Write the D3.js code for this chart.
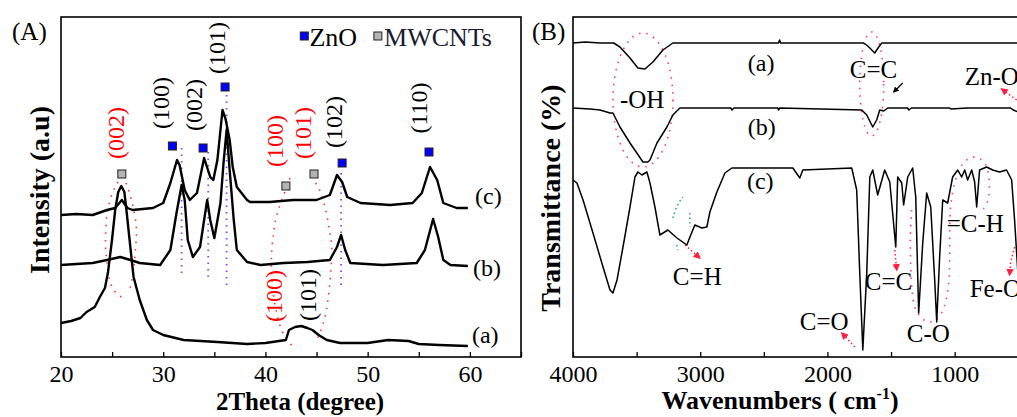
<!DOCTYPE html>
<html><head><meta charset="utf-8">
<script src="https://cdn.jsdelivr.net/npm/d3@7"></script>
<style>
body{margin:0;background:#fff}
svg{display:block}
text{font-family:"Liberation Serif","Times New Roman",serif;fill:#000}
</style>
</head><body>
<svg id="chart" width="1017" height="417"></svg>
<script>
// ---------------- DATA ----------------
// Panel A: XRD, [2theta (deg), intensity (a.u., offset)]
const xrdTicks = [20, 30, 40, 50, 60];
const xrdCurveA = [[20.0,34],[21.0,36],[21.9,39],[22.5,45],[23.3,50],[23.8,60],[24.3,69],[24.6,85],[25.0,118],[25.3,147],[25.6,165],[25.9,171],[26.2,165],[26.4,147],[26.7,118],[26.95,94],[27.1,80],[27.7,57],[28.4,37],[29.0,27],[30.0,22],[32.0,17],[35.3,15],[38.2,13],[40.0,14],[42.0,17],[42.3,27],[42.9,30],[43.5,31],[44.1,29],[44.6,27],[45.2,22],[46.0,17],[47.3,14],[50.0,14],[52.0,17],[54.0,16],[55.0,13],[57.0,12],[59.8,11]];
const xrdCurveB = [[20.0,92],[21.5,93],[23.1,94],[24.5,97],[25.8,100],[26.8,97],[27.7,94],[29.7,92],[30.7,107],[31.3,144],[31.8,172],[32.1,157],[32.4,117],[32.9,100],[33.6,110],[34.3,157],[34.6,137],[35.0,119],[35.6,154],[35.9,194],[36.2,227],[36.5,187],[36.9,137],[37.2,107],[38.2,95],[39.5,92],[41.8,94],[44.1,95],[46.3,97],[47.0,110],[47.4,122],[47.8,107],[48.3,94],[51.5,92],[54.8,94],[55.6,107],[56.4,138],[56.9,120],[57.4,97],[58.1,92],[59.8,91]];
const xrdCurveC = [[20.0,142],[21.5,143],[23.1,142],[24.5,147],[25.3,149],[25.95,157],[26.5,149],[27.0,147],[29.0,149],[30.0,154],[30.7,174],[31.35,197],[31.6,192],[32.1,167],[32.6,157],[33.3,164],[34.0,199],[34.6,180],[34.9,177],[35.3,197],[35.55,222],[35.8,247],[36.1,238],[36.5,217],[36.8,190],[37.2,170],[38.2,157],[38.5,155],[40.4,155],[42.7,157],[45.0,157],[46.3,162],[47.0,182],[47.5,175],[48.0,160],[49.3,154],[52.2,152],[54.4,154],[55.3,164],[56.1,190],[56.8,177],[57.4,154],[58.7,149],[59.8,149]];
const znoMarks = [[30.9,211],[33.9,209],[36.05,270],[47.5,194],[56.0,205]];
const cntMarks = [[25.95,183],[42.0,171],[44.75,183]];
const xrdPeakLabels = [
  {t:"(002)", x:25.3, y:224, red:true},
  {t:"(100)", x:29.7, y:254, red:false},
  {t:"(002)", x:33.0, y:252, red:false},
  {t:"(101)", x:35.2, y:309, red:false},
  {t:"(100)", x:40.85, y:216, red:true},
  {t:"(101)", x:43.6, y:224, red:true},
  {t:"(102)", x:46.7, y:235, red:false},
  {t:"(110)", x:55.0, y:249, red:false},
  {t:"(100)", x:40.75, y:61, red:true},
  {t:"(101)", x:44.1, y:62, red:false}
];
const xrdSeriesLabels = [["(c)",60.5,153],["(b)",60.3,81],["(a)",60.2,14]];
const xrdGuides = [[31.8,209,80],[34.4,205,77],[36.2,262,68],[47.4,184,70]];

// Panel B: FTIR, [wavenumber (cm-1), transmittance (offset)]
const ftirTicks = [4000, 3000, 2000, 1000];
const ftirCurveA = [[4000,314],[3906,315],[3788,314],[3680,314],[3631,310],[3552,299],[3490,289],[3435,288],[3372,295],[3293,307],[3215,314],[2385,314],[2376,317],[2368,314],[1715,314],[1683,311],[1628,304],[1597,310],[1573,314],[400,314]];
const ftirCurveB = [[4000,249],[3866,248],[3788,247],[3709,244],[3686,244],[3631,230],[3552,214],[3450,195],[3411,195],[3395,197],[3340,214],[3262,230],[3215,242],[3160,249],[2760,249],[2750,247],[2735,249],[2390,249],[2385,247],[2375,249],[1730,247],[1691,242],[1644,230],[1613,237],[1589,247],[1558,246],[1526,249],[1370,249],[1360,247],[1340,249],[1040,249],[1030,248],[900,249],[700,249],[560,249],[540,247],[500,245],[400,249]];
const ftirCurveC = [[4000,177],[3969,174],[3921,157],[3843,124],[3764,90],[3709,67],[3686,64],[3654,77],[3607,110],[3552,150],[3513,180],[3490,185],[3458,182],[3419,185],[3395,174],[3356,150],[3317,122],[3254,127],[3183,119],[3105,112],[3081,120],[3042,132],[2987,129],[2948,130],[2924,145],[2869,165],[2806,184],[2751,189],[2673,189],[2272,189],[2217,179],[2194,187],[1809,189],[1770,167],[1746,84],[1722,7],[1691,84],[1667,180],[1644,187],[1605,162],[1550,187],[1510,175],[1463,110],[1448,180],[1416,174],[1401,152],[1369,180],[1330,189],[1306,160],[1283,44],[1251,114],[1220,164],[1188,150],[1157,77],[1141,35],[1118,100],[1094,157],[1055,154],[1016,180],[976,187],[945,180],[921,187],[898,177],[866,187],[843,175],[827,150],[804,187],[749,190],[701,187],[647,185],[592,187],[552,177],[529,137],[490,57],[442,77],[400,150]];
const ftirBandLabels = [
  {t:"-OH", w:3631, v:249}, {t:"C=C", w:1825, v:279}, {t:"Zn-O", w:921, v:272},
  {t:"C=H", w:3215, v:72}, {t:"C=C", w:1707, v:67}, {t:"C-O", w:1377, v:15},
  {t:"=C-H", w:1063, v:125}, {t:"Fe-O", w:882, v:60}, {t:"C=O", w:2217, v:27}
];
const ftirSeriesLabels = [["(a)",2626,286],["(b)",2626,222],["(c)",2633,168]];

// ---------------- CHART ----------------
const svg = d3.select("#chart");
const xA = d3.scaleLinear().domain([20, 65]).range([61, 521]);
const yA = d3.scaleLinear().domain([0, 340]).range([357, 17]);
const xB = d3.scaleLinear().domain([4000, 400]).range([573, 1031]);
const yB = d3.scaleLinear().domain([0, 340]).range([357, 17]);

const defs = svg.append("defs");
function arrowMarker(id, color){
  defs.append("marker").attr("id", id).attr("viewBox","0 0 10 10").attr("refX",8).attr("refY",5)
    .attr("markerWidth",5).attr("markerHeight",5).attr("orient","auto")
    .append("path").attr("d","M0,0L10,5L0,10z").attr("fill", color);
}
arrowMarker("arRed", "#ff2040");
arrowMarker("arBlack", "#000");

// ---- Panel A ----
const gA = svg.append("g");
gA.selectAll(".guide").data(xrdGuides).enter().append("line")
  .attr("x1", d=>xA(d[0])).attr("x2", d=>xA(d[0]))
  .attr("y1", d=>yA(d[1])).attr("y2", d=>yA(d[2]))
  .attr("stroke","#9040ff").attr("stroke-width",1.8).attr("stroke-dasharray","1.5,5");

const dotLine = d3.line().curve(d3.curveBasis);
const redLoopsA = [
  [[25.58,175],[25.09,167],[24.5,147],[24.4,132],[24.3,110],[24.5,97],[24.7,75],[25.28,64],[26.07,59]],
  [[26.36,174],[26.65,166],[27.04,152],[27.44,130],[27.34,115],[27.24,101],[27.04,80],[26.65,65]],
  [[42.4,179],[41.6,157],[41.0,140],[40.8,124],[40.5,100],[40.7,60],[41.6,20],[42.9,9]],
  [[44.9,174],[45.4,167],[46.1,139],[46.4,117],[46.6,107],[46.1,50],[45.6,30],[44.9,14]]
];
gA.selectAll(".rl").data(redLoopsA).enter().append("path")
  .attr("d", d=>dotLine(d.map(p=>[xA(p[0]), yA(p[1])])))
  .attr("fill","none").attr("stroke","#ff3030").attr("stroke-width",1.6).attr("stroke-dasharray","1.5,6");

const lineA = d3.line().x(d=>xA(d[0])).y(d=>yA(d[1]));
[xrdCurveA, xrdCurveB, xrdCurveC].forEach(c=>{
  gA.append("path").attr("d", lineA(c)).attr("fill","none")
    .attr("stroke","#000").attr("stroke-width",2.4).attr("stroke-linejoin","round");
});

const ms = 8;
gA.selectAll(".zno").data(znoMarks).enter().append("rect")
  .attr("x", d=>xA(d[0])-ms/2).attr("y", d=>yA(d[1])-ms/2).attr("width",ms).attr("height",ms)
  .attr("fill","#0000ff").attr("stroke","#222").attr("stroke-width",1);
gA.selectAll(".cnt").data(cntMarks).enter().append("rect")
  .attr("x", d=>xA(d[0])-ms/2).attr("y", d=>yA(d[1])-ms/2).attr("width",ms).attr("height",ms)
  .attr("fill","#b4b4b4").attr("stroke","#222").attr("stroke-width",1);

gA.selectAll(".pl").data(xrdPeakLabels).enter().append("text")
  .attr("transform", d=>`translate(${xA(d.x)},${yA(d.y)}) rotate(-90)`)
  .attr("text-anchor","middle").attr("dy","0.35em")
  .style("font-size","24px").style("fill", d=>d.red?"#ff0000":"#000").text(d=>d.t);

gA.selectAll(".sl").data(xrdSeriesLabels).enter().append("text")
  .attr("x", d=>xA(d[1])).attr("y", d=>yA(d[2])).style("font-size","24px").text(d=>d[0]);

const lgY = 321;
gA.append("rect").attr("x", xA(43.8)-4).attr("y", yA(lgY)-4).attr("width",8).attr("height",8)
  .attr("fill","#0000ff").attr("stroke","#222");
gA.append("text").attr("x", xA(44.3)).attr("y", yA(311)).style("font-size","26px").text("ZnO");
gA.append("rect").attr("x", xA(51.0)-4).attr("y", yA(lgY)-4).attr("width",8).attr("height",8)
  .attr("fill","#b4b4b4").attr("stroke","#222");
gA.append("text").attr("x", xA(51.6)).attr("y", yA(311)).style("font-size","26px").style("fill","#1a1a33").text("MWCNTs");

const axA = gA.append("g").attr("transform","translate(0,357)")
  .call(d3.axisBottom(xA).tickValues(d3.range(20, 66, 5)).tickSize(-5).tickPadding(8)
    .tickFormat(d => xrdTicks.includes(d) ? d : ""));
axA.select(".domain").remove();
axA.selectAll(".tick line").attr("stroke","#000").attr("stroke-width",1.3);
axA.selectAll(".tick text").style("font-size","24px").style("font-family","Liberation Serif");
gA.append("rect").attr("x",61).attr("y",17).attr("width",xA(65)-61).attr("height",340)
  .attr("fill","none").attr("stroke","#000").attr("stroke-width",1.6);

gA.append("text").attr("x",12).attr("y",40).style("font-size","25px").text("(A)");
gA.append("text").attr("transform","translate(39,190) rotate(-90)").attr("text-anchor","middle").attr("dy","0.35em")
  .style("font-size","28px").style("font-weight","bold").text("Intensity (a.u)");
gA.append("text").attr("x",300).attr("y",410).attr("text-anchor","middle")
  .style("font-size","25px").style("font-weight","bold").text("2Theta (degree)");

// ---- Panel B ----
const gB = svg.append("g");
defs.append("clipPath").attr("id","clipB").append("rect").attr("x",573).attr("y",17).attr("width",460).attr("height",340);

gB.append("ellipse").attr("cx", xB(3450)).attr("cy", yB(257)).attr("rx",30).attr("ry",67)
  .attr("fill","none").attr("stroke","#ff3399").attr("stroke-width",1.6).attr("stroke-dasharray","1.5,6");
gB.append("ellipse").attr("cx", xB(1652)).attr("cy", yB(273)).attr("rx",12).attr("ry",52)
  .attr("fill","none").attr("stroke","#ff3399").attr("stroke-width",1.6).attr("stroke-dasharray","1.5,6");
const pinkLoop = [[1338,147],[1353,117],[1338,57],[1298,44],[1236,35],[1157,34],[1079,47],[1039,74],[1039,117],[1039,150],[1000,177],[945,194],[859,202],[764,197],[725,182],[725,157],[780,147]];
gB.append("path").attr("d", dotLine(pinkLoop.map(p=>[xB(p[0]), yB(p[1])])))
  .attr("fill","none").attr("stroke","#ff3399").attr("stroke-width",1.6).attr("stroke-dasharray","1.5,6");
const tealBits = [[[3215,139],[3184,152],[3136,160]],[[3081,144],[3081,130]],[[3184,112],[3176,107]]];
gB.selectAll(".teal").data(tealBits).enter().append("path")
  .attr("d", d=>dotLine(d.map(p=>[xB(p[0]), yB(p[1])])))
  .attr("fill","none").attr("stroke","#33aaaa").attr("stroke-width",1.6).attr("stroke-dasharray","1.5,3");
const redArrows = [
  [[3120,112],[3003,99]], [[1471,107],[1455,87]], [[1785,10],[1887,24]],
  [[529,110],[560,95],[568,82]], [[513,257],[631,268]]
];
gB.selectAll(".ra").data(redArrows).enter().append("path")
  .attr("d", d=>d3.line()(d.map(p=>[xB(p[0]), yB(p[1])])))
  .attr("fill","none").attr("stroke","#ff2040").attr("stroke-width",1.5).attr("stroke-dasharray","1.5,2.5")
  .attr("marker-end","url(#arRed)");
gB.append("path").attr("d", d3.line()([[xB(1408),yB(274)],[xB(1479),yB(265)]]))
  .attr("stroke","#000").attr("stroke-width",1.2).attr("marker-end","url(#arBlack)");

const lineB = d3.line().x(d=>xB(d[0])).y(d=>yB(d[1]));
const curvesB = gB.append("g").attr("clip-path","url(#clipB)");
[ftirCurveA, ftirCurveB, ftirCurveC].forEach(c=>{
  curvesB.append("path").attr("d", lineB(c)).attr("fill","none")
    .attr("stroke","#000").attr("stroke-width",1.5).attr("stroke-linejoin","round");
});

gB.selectAll(".bl").data(ftirBandLabels).enter().append("text")
  .attr("x", d=>xB(d.w)).attr("y", d=>yB(d.v)).style("font-size","25px").text(d=>d.t);
gB.selectAll(".sl").data(ftirSeriesLabels).enter().append("text")
  .attr("x", d=>xB(d[1])).attr("y", d=>yB(d[2])).style("font-size","24px").text(d=>d[0]);

const axB = gB.append("g").attr("transform","translate(0,357)")
  .call(d3.axisBottom(xB).tickValues(d3.range(4000, 399, -500)).tickSize(-5).tickPadding(8)
    .tickFormat(d => ftirTicks.includes(d) ? d : ""));
axB.select(".domain").remove();
axB.selectAll(".tick line").attr("stroke","#000").attr("stroke-width",1.3);
axB.selectAll(".tick text").style("font-size","24px").style("font-family","Liberation Serif");
gB.append("rect").attr("x",573).attr("y",17).attr("width",xB(400)-573).attr("height",340)
  .attr("fill","none").attr("stroke","#000").attr("stroke-width",1.6);

gB.append("text").attr("x",532).attr("y",40).style("font-size","25px").text("(B)");
gB.append("text").attr("transform","translate(550,198) rotate(-90)").attr("text-anchor","middle").attr("dy","0.35em")
  .style("font-size","28px").style("font-weight","bold").text("Transmittance (%)");
const xt = gB.append("text").attr("x",780).attr("y",409).attr("text-anchor","middle")
  .style("font-size","26px").style("font-weight","bold");
xt.append("tspan").text("Wavenumbers ( cm");
xt.append("tspan").attr("dy",-10).style("font-size","16px").text("-1");
xt.append("tspan").attr("dy",10).text(")");
</script>
</body></html>
